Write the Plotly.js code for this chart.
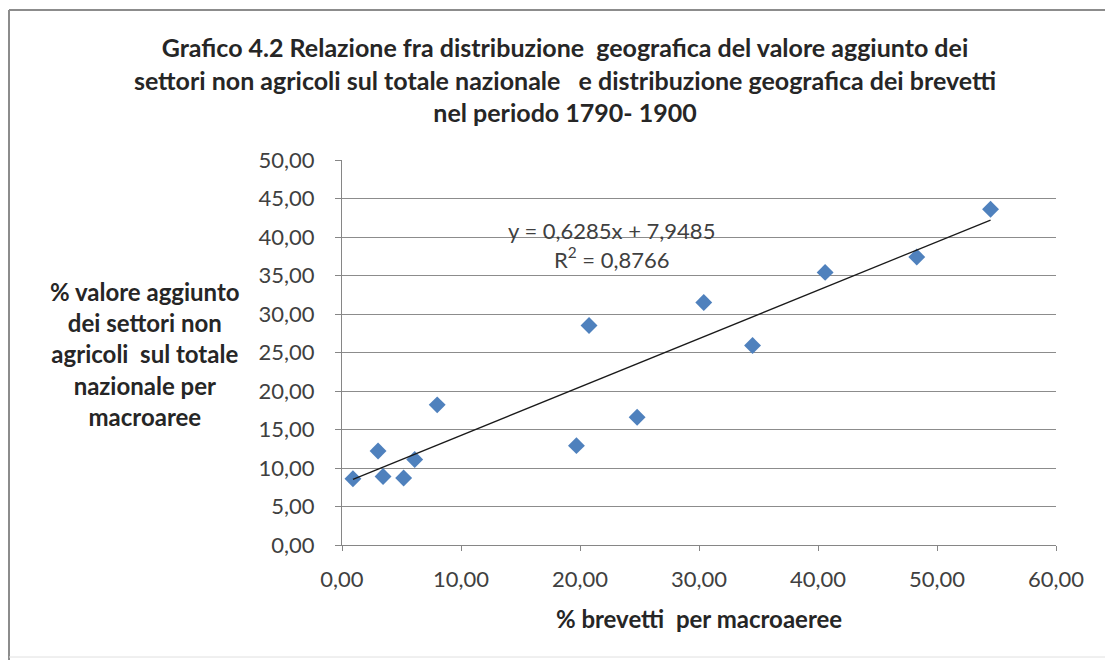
<!DOCTYPE html>
<html>
<head>
<meta charset="utf-8">
<script src="https://cdn.plot.ly/plotly-3.0.1.min.js"></script>
<style>
html,body{margin:0;padding:0;background:#fff;}
#chart{width:1105px;height:661px;}
</style>
</head>
<body>
<div id="chart"></div>
<script>
// Data
const brevetti = [0.92, 3.03, 3.45, 5.18, 6.11, 8.0, 19.7, 20.76, 24.8, 30.4, 34.5, 40.6, 48.3, 54.5];
const valoreAggiunto = [8.6, 12.2, 8.9, 8.7, 11.1, 18.2, 12.9, 28.5, 16.6, 31.5, 25.9, 35.4, 37.4, 43.6];
const trendSlope = 0.6285;
const trendIntercept = 7.9485;
const trendR2 = 0.8766;
const xTicks = [0, 10, 20, 30, 40, 50, 60];
const yTicks = [0, 5, 10, 15, 20, 25, 30, 35, 40, 45, 50];
const fmt = v => v.toFixed(2).replace('.', ',');
const fmt4 = v => v.toFixed(4).replace('.', ',');

const xMin = Math.min(...brevetti), xMax = Math.max(...brevetti);
const trendX = [xMin, xMax];
const trendY = trendX.map(x => trendSlope * x + trendIntercept);

const W = 1105, H = 661;
const m = {l: 342, r: 49, t: 160, b: 116};
const pw = W - m.l - m.r, ph = H - m.t - m.b;
const px = p => (p - m.l) / pw;
const py = p => (H - m.b - p) / ph;

const font = '"Lato", "Open Sans", sans-serif';

const traces = [
  {
    x: brevetti, y: valoreAggiunto, type: 'scatter', mode: 'markers',
    marker: {symbol: 'diamond', size: 13, color: '#4F81BD', line: {width: 0}},
    hoverinfo: 'x+y', showlegend: false
  },
  {
    x: trendX, y: trendY, type: 'scatter', mode: 'lines',
    line: {color: '#1a1a1a', width: 1.3}, hoverinfo: 'skip', showlegend: false
  }
];

const layout = {
  width: W, height: H,
  margin: m,
  paper_bgcolor: '#ffffff', plot_bgcolor: '#ffffff',
  font: {family: font, color: '#404040'},
  title: {
    text: '<b>Grafico 4.2 Relazione fra distribuzione  geografica del valore aggiunto dei<br>settori non agricoli sul totale nazionale   e distribuzione geografica dei brevetti<br>nel periodo 1790- 1900</b>',
    font: {family: font, size: 25, color: '#262626'},
    x: 565 / W, xref: 'container', xanchor: 'center',
    y: 1 - 57 / H, yref: 'container', yanchor: 'top'
  },
  xaxis: {
    range: [0, 60], tickvals: xTicks, ticktext: xTicks.map(fmt),
    showgrid: false, zeroline: false,
    showline: true, linecolor: '#868686', linewidth: 1,
    ticks: 'outside', ticklen: 5, tickcolor: '#868686',
    ticklabelstandoff: 10,
    tickfont: {family: font, size: 22, color: '#404040'},
    title: {text: '<b>% brevetti  per macroaeree</b>', font: {family: font, size: 24, color: '#262626'}, standoff: 19},
    fixedrange: true
  },
  yaxis: {
    range: [0, 50], tickvals: yTicks, ticktext: yTicks.map(fmt),
    showgrid: true, gridcolor: '#8c8c8c', gridwidth: 1,
    zeroline: false,
    showline: true, linecolor: '#868686', linewidth: 1,
    ticks: 'outside', ticklen: 6, tickcolor: '#868686',
    ticklabelstandoff: 16,
    tickfont: {family: font, size: 22, color: '#404040'},
    fixedrange: true
  },
  annotations: [
    {
      text: '<b>% valore aggiunto<br>dei settori non<br>agricoli  sul totale<br>nazionale per<br>macroaree</b>',
      xref: 'paper', yref: 'paper', x: px(145), y: py(354), xanchor: 'center', yanchor: 'middle',
      showarrow: false, align: 'center',
      font: {family: font, size: 24, color: '#262626'}
    },
    {
      text: 'y = ' + fmt4(trendSlope) + 'x + ' + fmt4(trendIntercept) + '<br>R<sup>2</sup> = ' + fmt4(trendR2),
      xref: 'paper', yref: 'paper', x: px(611), y: py(245), xanchor: 'center', yanchor: 'middle',
      showarrow: false, align: 'center',
      font: {family: font, size: 22, color: '#404040'}
    }
  ],
  shapes: [
    {type: 'line', xref: 'paper', yref: 'paper', x0: px(9), x1: px(9), y0: py(660), y1: py(10),
     line: {color: '#8c8c8c', width: 2}, layer: 'below'},
    {type: 'line', xref: 'paper', yref: 'paper', x0: px(9), x1: px(1105), y0: py(10), y1: py(10),
     line: {color: '#8c8c8c', width: 2}, layer: 'below'},
    {type: 'line', xref: 'paper', yref: 'paper', x0: px(9), x1: px(1105), y0: py(657), y1: py(657),
     line: {color: '#e0e0e0', width: 1}, layer: 'below'}
  ]
};

Plotly.newPlot('chart', traces, layout, {displayModeBar: false, staticPlot: true});
</script>
</body>
</html>
